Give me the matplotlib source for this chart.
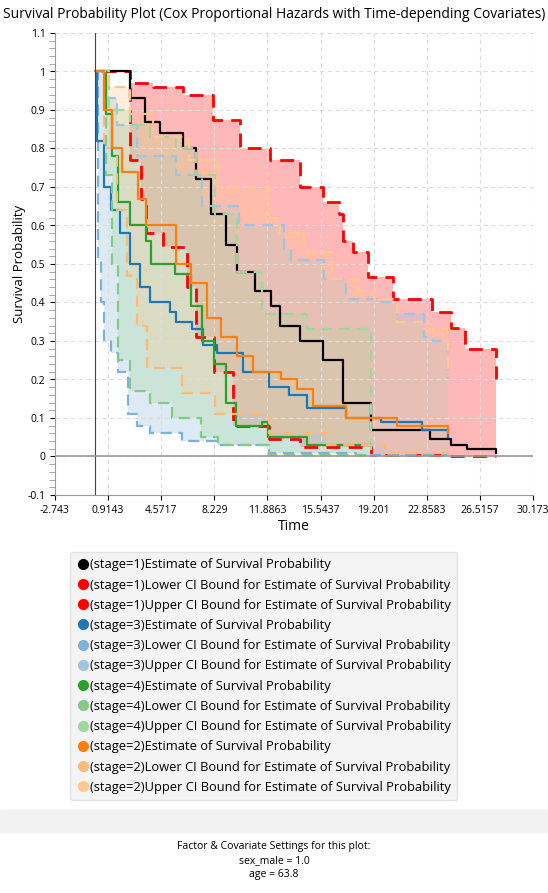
import numpy as np
import matplotlib
matplotlib.use("Agg")
import matplotlib.pyplot as plt
from matplotlib.lines import Line2D

# ---- data (time knots, survival values; step-post) ----
s1_est_t = [0.5, 2.43, 3.45, 4.5, 6.1, 7.0, 8.0, 9.0, 9.8, 11.0, 12.1, 12.75, 14.1, 15.7, 17.1, 19.0, 23.1, 24.5, 25.6, 27.6]
s1_est_y = [1.0, 0.93, 0.87, 0.84, 0.80, 0.72, 0.63, 0.55, 0.48, 0.43, 0.39, 0.34, 0.30, 0.25, 0.14, 0.07, 0.045, 0.03, 0.02, 0.01]
s1_lo_t = [0.5, 2.43, 3.2, 3.5, 4.7, 6.35, 7.0, 8.2, 9.5, 12.0, 14.1, 19.0, 24.0, 27.6]
s1_lo_y = [1.0, 0.77, 0.67, 0.58, 0.545, 0.44, 0.31, 0.22, 0.08, 0.045, 0.025, 0.005, 0.0, 0.0]
s1_hi_t = [0.5, 2.43, 4.0, 6.1, 8.15, 10.0, 12.07, 14.1, 15.7, 16.8, 17.1, 17.8, 18.8, 20.5, 23.2, 24.5, 25.5, 27.6]
s1_hi_y = [1.0, 0.97, 0.96, 0.94, 0.875, 0.80, 0.77, 0.70, 0.66, 0.63, 0.56, 0.53, 0.465, 0.41, 0.375, 0.335, 0.28, 0.20]

s3_est_t = [0.05, 0.15, 0.6, 1.1, 1.7, 2.4, 3.1, 3.8, 5.2, 5.6, 6.7, 7.45, 8.4, 10.2, 12.0, 13.4, 14.6, 17.3, 19.7, 22.5, 24.3]
s3_est_y = [1.0, 0.82, 0.70, 0.64, 0.58, 0.50, 0.44, 0.40, 0.375, 0.35, 0.33, 0.29, 0.27, 0.22, 0.18, 0.16, 0.125, 0.10, 0.09, 0.07, 0.05]
s3_lo_t = [0.05, 0.2, 0.4, 0.6, 1.1, 1.6, 2.3, 2.9, 3.8, 6.0, 8.5, 12.0, 18.0, 24.3]
s3_lo_y = [1.0, 0.51, 0.40, 0.30, 0.27, 0.22, 0.11, 0.08, 0.06, 0.04, 0.03, 0.01, 0.003, 0.0]
s3_hi_t = [0.05, 0.7, 1.5, 2.9, 5.6, 7.4, 9.9, 13.0, 13.5, 15.8, 17.3, 19.5, 20.8, 22.7, 23.3, 24.3]
s3_hi_y = [1.0, 0.93, 0.86, 0.78, 0.73, 0.65, 0.60, 0.54, 0.51, 0.46, 0.41, 0.40, 0.37, 0.31, 0.30, 0.20]

s4_est_t = [0.3, 0.8, 1.2, 1.6, 2.4, 3.5, 3.9, 5.5, 6.6, 7.4, 8.2, 9.0, 9.7, 11.5, 11.9, 14.6, 19.0]
s4_est_y = [1.0, 0.89, 0.78, 0.66, 0.60, 0.56, 0.50, 0.475, 0.39, 0.30, 0.24, 0.14, 0.08, 0.09, 0.05, 0.03, 0.03]
s4_lo_t = [0.3, 0.8, 1.2, 1.6, 2.4, 3.8, 5.3, 7.3, 8.5, 12.0, 19.0]
s4_lo_y = [1.0, 0.73, 0.50, 0.25, 0.17, 0.14, 0.10, 0.05, 0.03, 0.005, 0.0]
s4_hi_t = [0.3, 1.0, 2.4, 3.8, 5.6, 7.0, 8.3, 9.8, 11.5, 14.6, 19.0]
s4_hi_y = [1.0, 0.90, 0.86, 0.83, 0.80, 0.73, 0.63, 0.48, 0.37, 0.33, 0.0]

s2_est_t = [0.0, 0.6, 1.2, 1.9, 3.0, 3.5, 5.6, 6.6, 7.7, 8.7, 9.8, 10.9, 12.8, 13.9, 15.0, 17.3, 20.8, 24.3]
s2_est_y = [1.0, 0.90, 0.80, 0.74, 0.67, 0.60, 0.50, 0.45, 0.36, 0.31, 0.26, 0.22, 0.20, 0.175, 0.13, 0.10, 0.08, 0.06]
s2_lo_t = [0.0, 0.6, 1.5, 2.2, 2.9, 3.6, 6.0, 8.3, 12.0, 16.0, 20.0, 24.3]
s2_lo_y = [1.0, 0.80, 0.64, 0.47, 0.34, 0.23, 0.165, 0.11, 0.06, 0.03, 0.01, 0.0]
s2_hi_t = [0.0, 1.0, 2.4, 4.0, 6.5, 8.5, 12.0, 12.75, 14.4, 16.3, 18.2, 19.2, 20.8, 22.5, 24.3]
s2_hi_y = [1.0, 0.96, 0.89, 0.83, 0.77, 0.70, 0.62, 0.58, 0.53, 0.46, 0.43, 0.41, 0.35, 0.33, 0.22]

groups = [
    ("stage=1", s1_est_t, s1_est_y, s1_lo_t, s1_lo_y, s1_hi_t, s1_hi_y, "#000000", "#ff0000", "#ff0000"),
    ("stage=3", s3_est_t, s3_est_y, s3_lo_t, s3_lo_y, s3_hi_t, s3_hi_y, "#1f77b4", "#7fb0d8", "#9ec5e2"),
    ("stage=4", s4_est_t, s4_est_y, s4_lo_t, s4_lo_y, s4_hi_t, s4_hi_y, "#2ca02c", "#86c986", "#9fd79f"),
    ("stage=2", s2_est_t, s2_est_y, s2_lo_t, s2_lo_y, s2_hi_t, s2_hi_y, "#ff7f0e", "#ffba7a", "#ffc890"),
]
fill_alpha = [0.28, 0.35, 0.3, 0.3]

xticks = [-2.743, 0.9143, 4.5717, 8.229, 11.8863, 15.5437, 19.201, 22.8583, 26.5157, 30.173]
xticklabels = ["-2.743", "0.9143", "4.5717", "8.229", "11.8863", "15.5437", "19.201", "22.8583", "26.5157", "30.173"]
yticks = [-0.1, 0, 0.1, 0.2, 0.3, 0.4, 0.5, 0.6, 0.7, 0.8, 0.9, 1.0, 1.1]
yticklabels = ["-0.1", "0", "0.1", "0.2", "0.3", "0.4", "0.5", "0.6", "0.7", "0.8", "0.9", "1", "1.1"]

plt.rcParams['font.family'] = ['Open Sans', 'DejaVu Sans']
fig = plt.figure(figsize=(5.48, 8.93), dpi=100)
ax = fig.add_axes([55/548, 1-495/893, 478/548, 462/893])

def step_eval(t, y, grid):
    idx = np.searchsorted(np.array(t), grid, side='right') - 1
    return np.array(y)[np.clip(idx, 0, len(y)-1)]

for (name, et, ey, lt, ly, ht, hy, ce, clo, chi), fa in zip(groups, fill_alpha):
    start = max(lt[0], ht[0]); end = min(lt[-1], ht[-1])
    grid = np.array(sorted(set([v for v in lt + ht if start <= v <= end])))
    ax.fill_between(grid, step_eval(lt, ly, grid), step_eval(ht, hy, grid), step='post',
                    color=chi, alpha=fa, linewidth=0)
    lw = 2 if name == "stage=1" else 1.6
    ax.step(lt, ly, where='post', color=clo, lw=lw, ls=(0, (5, 3)))
    ax.step(ht, hy, where='post', color=chi, lw=lw, ls=(0, (5, 3)))
    ax.step(et, ey, where='post', color=ce, lw=1.6)

ax.axvline(0, color='#444444', lw=0.8)
ax.axhline(0, color='#999999', lw=1.2)
ax.set_xlim(-2.743, 30.173)
ax.set_ylim(-0.1, 1.1)
ax.set_xticks(xticks); ax.set_xticklabels(xticklabels, fontsize=7.5)
ax.set_yticks(yticks); ax.set_yticklabels(yticklabels, fontsize=7.5)
ax.set_yticks(np.arange(-0.1, 1.1001, 0.02), minor=True)
ax.tick_params(axis='y', which='minor', length=4, color='#999999')
ax.grid(True, ls=(0, (4, 3)), color='#dddddd', lw=0.8)
for s in ['top', 'right']:
    ax.spines[s].set_visible(False)
for s in ['left', 'bottom']:
    ax.spines[s].set_color('#999999')
ax.set_xlabel("Time", fontsize=10, labelpad=2)
ax.set_ylabel("Survival Probability", fontsize=9.5, labelpad=1)
fig.text(274/548, 1-15/893, "Survival Probability Plot (Cox Proportional Hazards with Time-depending Covariates)",
         ha='center', va='center', fontsize=10)

handles, labels = [], []
for (name, et, ey, lt, ly, ht, hy, ce, clo, chi) in groups:
    for c, lab in [(ce, "Estimate of Survival Probability"),
                   (clo, "Lower CI Bound for Estimate of Survival Probability"),
                   (chi, "Upper CI Bound for Estimate of Survival Probability")]:
        handles.append(Line2D([], [], ls='none', marker='o', ms=7, color=c))
        labels.append(f"({name}){lab}")
leg = fig.legend(handles, labels, loc='upper left', bbox_to_anchor=(64/548, 1-546/893),
                 fontsize=9.3, frameon=True, handletextpad=0.1, labelspacing=0.56,
                 borderpad=0.45, handlelength=1.0)
leg.get_frame().set_facecolor('#f2f2f2'); leg.get_frame().set_edgecolor('#dddddd')

fig.patches.append(plt.Rectangle((0, 1-832/893), 1, 22/893, transform=fig.transFigure,
                                 color='#f2f2f2', zorder=0))
for i, s in enumerate(["Factor & Covariate Settings for this plot:", "sex_male = 1.0", "age = 63.8"]):
    fig.text(274/548, 1-(847+14*i)/893, s, ha='center', va='center', fontsize=7.5)

fig.savefig("out.png", dpi=100)
